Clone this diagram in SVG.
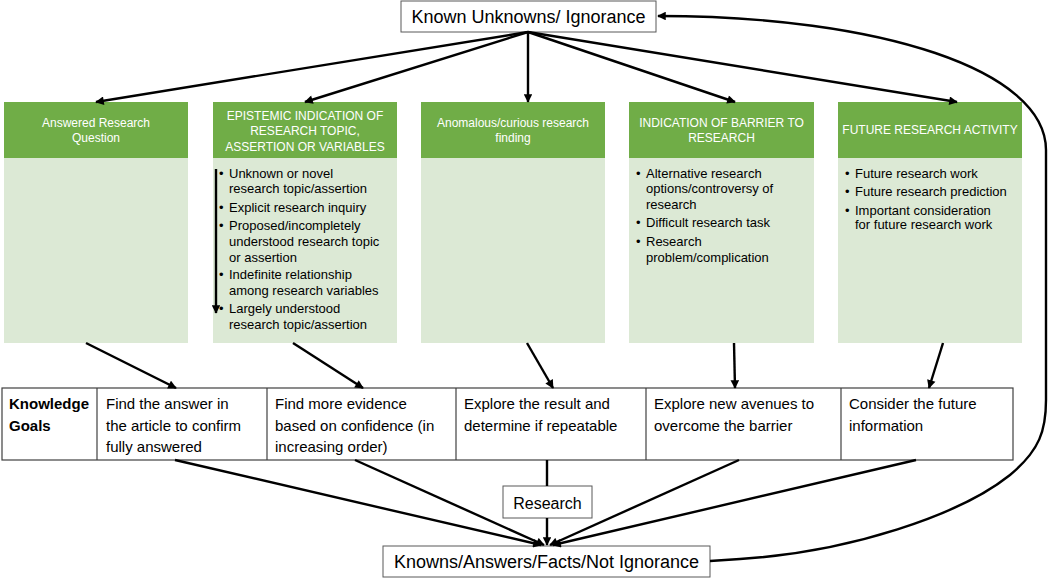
<svg xmlns="http://www.w3.org/2000/svg" width="1050" height="578" viewBox="0 0 1050 578">
<defs>
<marker id="ah" viewBox="0 0 10 10" refX="9" refY="5" markerWidth="4" markerHeight="3.6" orient="auto">
<path d="M0,0 L10,5 L0,10 z" fill="#000"/>
</marker>
<style>
.hd{fill:#70AD47}
.bd{fill:#DCE9D5}
.ht{font-family:"Liberation Sans",Arial,sans-serif;font-size:12px;fill:#fff;text-anchor:middle}
.bt{font-family:"Liberation Sans",Arial,sans-serif;font-size:13px;fill:#000}
.tt{font-family:"Liberation Sans",Arial,sans-serif;font-size:15px;fill:#000}
.box{fill:#fff;stroke:#595959;stroke-width:1}
.lt{font-family:"Liberation Sans",Arial,sans-serif;fill:#000;text-anchor:middle}
.c{fill:none;stroke:#000;stroke-width:2.4}
.ca{fill:none;stroke:#000;stroke-width:2.4;marker-end:url(#ah)}
</style>
</defs>
<rect width="1050" height="578" fill="#fff"/>

<g id="known-unknowns">
<rect class="box" x="401" y="1" width="255" height="31"/>
<text class="lt" x="528.5" y="23" font-size="18">Known Unknowns/ Ignorance</text>
</g>

<g id="col-answered">
<rect class="hd" x="4" y="102" width="184" height="56"/>
<rect class="bd" x="4" y="158" width="184" height="185"/>
<text class="ht" x="96" y="127">Answered Research</text>
<text class="ht" x="96" y="142">Question</text>
</g>

<g id="col-epistemic">
<rect class="hd" x="213" y="102" width="184" height="56"/>
<rect class="bd" x="213" y="158" width="184" height="185"/>
<text class="ht" x="305" y="120">EPISTEMIC INDICATION OF</text>
<text class="ht" x="305" y="135">RESEARCH TOPIC,</text>
<text class="ht" x="305" y="151">ASSERTION OR VARIABLES</text>
<g class="bt">
<text x="219" y="177.5">•</text><text x="229" y="177.5">Unknown or novel</text>
<text x="229" y="192.5">research topic/assertion</text>
<text x="219" y="211.5">•</text><text x="229" y="211.5">Explicit research inquiry</text>
<text x="219" y="229.5">•</text><text x="229" y="229.5">Proposed/incompletely</text>
<text x="229" y="245.5">understood research topic</text>
<text x="229" y="261.5">or assertion</text>
<text x="219" y="278.5">•</text><text x="229" y="278.5">Indefinite relationship</text>
<text x="229" y="294.5">among research variables</text>
<text x="219" y="312.5">•</text><text x="229" y="312.5">Largely understood</text>
<text x="229" y="328.5">research topic/assertion</text>
</g>
<line class="ca" x1="216" y1="169" x2="216" y2="313"/>
</g>

<g id="col-anomalous">
<rect class="hd" x="421" y="102" width="184" height="56"/>
<rect class="bd" x="421" y="158" width="184" height="185"/>
<text class="ht" x="513" y="127">Anomalous/curious research</text>
<text class="ht" x="513" y="142">finding</text>
</g>

<g id="col-barrier">
<rect class="hd" x="629" y="102" width="185" height="56"/>
<rect class="bd" x="629" y="158" width="185" height="185"/>
<text class="ht" x="721.5" y="127">INDICATION OF BARRIER TO</text>
<text class="ht" x="721.5" y="142">RESEARCH</text>
<g class="bt">
<text x="636" y="177.5">•</text><text x="646" y="177.5">Alternative research</text>
<text x="646" y="192.5">options/controversy of</text>
<text x="646" y="208.5">research</text>
<text x="636" y="226.5">•</text><text x="646" y="226.5">Difficult research task</text>
<text x="636" y="245.5">•</text><text x="646" y="245.5">Research</text>
<text x="646" y="261.5">problem/complication</text>
</g>
</g>

<g id="col-future">
<rect class="hd" x="838" y="102" width="184" height="56"/>
<rect class="bd" x="838" y="158" width="184" height="185"/>
<text class="ht" x="930" y="134">FUTURE RESEARCH ACTIVITY</text>
<g class="bt">
<text x="845" y="177.5">•</text><text x="855" y="177.5">Future research work</text>
<text x="845" y="195.5">•</text><text x="855" y="195.5">Future research prediction</text>
<text x="845" y="214.5">•</text><text x="855" y="214.5">Important consideration</text>
<text x="855" y="228.5">for future research work</text>
</g>
</g>

<g id="knowledge-goals">
<rect x="2" y="388" width="1011" height="72" fill="#fff" stroke="#404040" stroke-width="1.2"/>
<g stroke="#404040" stroke-width="1.2">
<line x1="97" y1="388" x2="97" y2="460"/>
<line x1="267" y1="388" x2="267" y2="460"/>
<line x1="456" y1="388" x2="456" y2="460"/>
<line x1="646" y1="388" x2="646" y2="460"/>
<line x1="841" y1="388" x2="841" y2="460"/>
</g>
<g class="tt">
<text x="9" y="409" font-weight="bold">Knowledge</text>
<text x="9" y="431" font-weight="bold">Goals</text>
<text x="106" y="409">Find the answer in</text>
<text x="106" y="431">the article to confirm</text>
<text x="106" y="452">fully answered</text>
<text x="275" y="409">Find more evidence</text>
<text x="275" y="431">based on confidence (in</text>
<text x="275" y="452">increasing order)</text>
<text x="464" y="409">Explore the result and</text>
<text x="464" y="431">determine if repeatable</text>
<text x="654" y="409">Explore new avenues to</text>
<text x="654" y="431">overcome the barrier</text>
<text x="849" y="409">Consider the future</text>
<text x="849" y="431">information</text>
</g>
</g>

<g id="research">
<rect class="box" x="503" y="486" width="89" height="32"/>
<text class="lt" x="547.5" y="509" font-size="16">Research</text>
</g>

<g id="knowns">
<rect class="box" x="383" y="546" width="327" height="31"/>
<text class="lt" x="546.5" y="568" font-size="18">Knowns/Answers/Facts/Not Ignorance</text>
</g>

<g id="connectors">
<line class="ca" x1="528" y1="32" x2="96" y2="102"/>
<line class="ca" x1="528" y1="32" x2="305" y2="102"/>
<line class="ca" x1="528" y1="32" x2="528" y2="102"/>
<line class="ca" x1="528" y1="32" x2="735" y2="102"/>
<line class="ca" x1="528" y1="32" x2="957" y2="102"/>
<line class="ca" x1="86" y1="343" x2="176" y2="388"/>
<line class="ca" x1="293" y1="343" x2="363" y2="388"/>
<line class="ca" x1="527" y1="343" x2="553" y2="388"/>
<line class="ca" x1="734" y1="343" x2="735" y2="388"/>
<line class="ca" x1="943" y1="343" x2="929" y2="388"/>
<line class="c" x1="547" y1="460" x2="547" y2="486"/>
<line class="ca" x1="547" y1="518" x2="547" y2="545"/>
<line class="ca" x1="175" y1="460" x2="541" y2="545"/>
<line class="ca" x1="355" y1="460" x2="544" y2="545"/>
<line class="ca" x1="739" y1="460" x2="550" y2="545"/>
<line class="ca" x1="916" y1="460" x2="553" y2="545"/>
<path class="ca" d="M710,561 L740,559 C850,552 960,515 1010,475 C1040,450 1046,430 1046,400 L1046,150 C1046,70 880,16 658,16"/>
</g>
</svg>
